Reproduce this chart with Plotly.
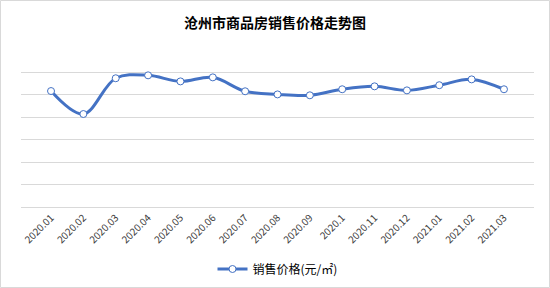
import plotly.graph_objects as go

months = ["2020.01", "2020.02", "2020.03", "2020.04", "2020.05", "2020.06", "2020.07",
          "2020.08", "2020.09", "2020.1", "2020.11", "2020.12", "2021.01", "2021.02", "2021.03"]
prices = [10340, 8290, 11480, 11740, 11200, 11560, 10320, 10040, 9960, 10500, 10760,
          10400, 10860, 11380, 10500]
series_name = "销售价格(元/㎡)"
title_text = "沧州市商品房销售价格走势图"

blue = "#4472C4"
grid = "#D9D9D9"
cjk = "Noto Sans CJK SC"

fig = go.Figure()
fig.add_trace(go.Scatter(
    x=months, y=prices, name=series_name, mode="lines+markers",
    line=dict(color=blue, width=3, shape="spline", smoothing=1),
    marker=dict(symbol="circle", size=7, color="white", line=dict(color=blue, width=1)),
))

L, R, T, B = 21, 16, 50, 81
pw, ph = 550 - L - R, 288 - T - B

fig.update_layout(
    width=550, height=288,
    margin=dict(l=L, r=R, t=T, b=B, autoexpand=False),
    paper_bgcolor="white", plot_bgcolor="white",
    title=dict(text="<b>" + title_text + "</b>", x=0.5, xanchor="center",
               y=1 - 23 / 288, yanchor="middle",
               font=dict(family=cjk, size=14, color="#000000")),
    showlegend=True,
    legend=dict(orientation="h", x=0.5, xanchor="center", y=(T + ph - 269) / ph,
                yanchor="middle", font=dict(family=cjk, size=12, color="#000000"),
                bgcolor="rgba(0,0,0,0)"),
    xaxis=dict(type="category", tickangle=-45, showgrid=False, showline=True,
               linecolor=grid, linewidth=1, ticks="", automargin=False,
               tickfont=dict(family=cjk, size=10, color="#404040")),
    yaxis=dict(range=[0, 14000], dtick=2000, showticklabels=False, showgrid=True,
               gridcolor=grid, gridwidth=1, zeroline=False, showline=False, ticks="",
               automargin=False),
    shapes=[dict(type="rect", xref="paper", yref="paper",
                 x0=(0.5 - L) / pw, x1=(549.5 - L) / pw,
                 y0=(T + ph - 287.5) / ph, y1=(T + ph - 0.5) / ph,
                 line=dict(color=grid, width=1), fillcolor="rgba(0,0,0,0)", layer="below")],
)

fig.write_html("out.html")
